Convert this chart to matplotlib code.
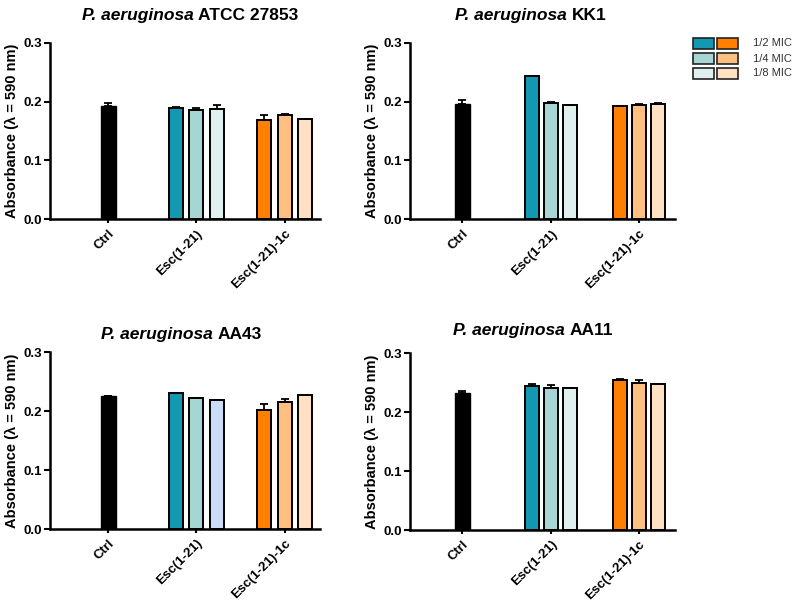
import numpy as np
import matplotlib
matplotlib.use("Agg")
import matplotlib.pyplot as plt
from matplotlib.patches import Rectangle

plt.rcParams["font.family"] = ["Liberation Sans", "DejaVu Sans"]

groups = ["Ctrl", "Esc(1-21)", "Esc(1-21)-1c"]
doses = ["1/2 MIC", "1/4 MIC", "1/8 MIC"]
species = "P. aeruginosa"
titles = ["ATCC 27853", "KK1", "AA43", "AA11"]

# absorbance values per strain: ctrl, Esc(1-21) [1/2,1/4,1/8], Esc(1-21)-1c [1/2,1/4,1/8]
ctrl = [0.193, 0.196, 0.225, 0.232]
ctrl_err = [0.004, 0.006, 0.001, 0.004]
esc = [[0.190, 0.186, 0.187],
       [0.243, 0.198, 0.194],
       [0.230, 0.222, 0.219],
       [0.2435, 0.241, 0.241]]
esc_err = [[0.001, 0.004, 0.007],
           [0.0, 0.001, 0.001],
           [0.0, 0.001, 0.0],
           [0.0035, 0.004, 0.0]]
esc1c = [[0.169, 0.178, 0.171],
         [0.192, 0.194, 0.196],
         [0.202, 0.216, 0.228],
         [0.254, 0.249, 0.248]]
esc1c_err = [[0.009, 0.001, 0.0],
             [0.0, 0.002, 0.002],
             [0.010, 0.005, 0.0],
             [0.002, 0.006, 0.0]]

teal = ["#1497b0", "#a7d5d3", "#dff0ef"]
orange = ["#ff7f00", "#ffbf80", "#ffe0c2"]
aa43_teal = ["#1497b0", "#a7d5d3", "#c9def6"]

fig = plt.figure(figsize=(8, 6.04), dpi=100)

# axes boxes [left, bottom, width, height] and layout per panel
boxes = [[0.0625, 0.637, 0.3375, 0.292],
         [0.5125, 0.637, 0.33125, 0.292],
         [0.0625, 0.124, 0.3375, 0.293],
         [0.5125, 0.1225, 0.33125, 0.293]]
xlims = [(-58, 212), (-52.5, 212.5), (-58, 212), (-52.5, 212.5)]
steps = [20.5, 19, 20.5, 19]
title_y = [0.974, 0.974, 0.447, 0.452]
title_x = [190 / 800, 531 / 800, 181 / 800, 533 / 800]
group_x = np.arange(3) * 88.3
ekw = dict(lw=1.3, capthick=1.3)

for i in range(4):
    ax = fig.add_axes(boxes[i])
    step = steps[i]
    w = 14
    cols = aa43_teal if i == 2 else teal
    ax.bar(group_x[0], ctrl[i], width=w + 1, color="black", edgecolor="black",
           yerr=[[0], [ctrl_err[i]]], capsize=3, error_kw=ekw)
    for j in range(3):
        ax.bar(group_x[1] + (j - 1) * step, esc[i][j], width=w, color=cols[j],
               edgecolor="black", linewidth=1.4,
               yerr=[[0], [esc_err[i][j]]], capsize=3, error_kw=ekw)
        ax.bar(group_x[2] + (j - 1) * step, esc1c[i][j], width=w, color=orange[j],
               edgecolor="black", linewidth=1.4,
               yerr=[[0], [esc1c_err[i][j]]], capsize=3, error_kw=ekw)
    ax.set_xlim(*xlims[i])
    ax.set_ylim(0, 0.3)
    ax.set_yticks([0, 0.1, 0.2, 0.3])
    ax.set_yticklabels(["0.0", "0.1", "0.2", "0.3"], fontsize=9.5, fontweight="bold")
    ax.set_xticks(group_x)
    ax.set_xticklabels(groups, rotation=45, ha="right", rotation_mode="anchor",
                       fontsize=9.5, fontweight="bold")
    ax.tick_params(axis="both", width=1.5, length=4, direction="out", pad=2)
    ax.tick_params(axis="x", length=3, pad=3)
    for s in ["top", "right"]:
        ax.spines[s].set_visible(False)
    for s in ["left", "bottom"]:
        ax.spines[s].set_linewidth(1.8)
    ax.set_ylabel("Absorbance (\u03bb = 590 nm)", fontsize=10.5, fontweight="bold", labelpad=3)

# titles: italic species name followed by the strain in bold
renderer = fig.canvas.get_renderer()
for i in range(4):
    t1 = fig.text(0, title_y[i], species + " ", fontsize=12.5, fontweight="bold",
                  style="italic", va="center", ha="left")
    t2 = fig.text(0, title_y[i], titles[i], fontsize=12.5, fontweight="bold",
                  va="center", ha="left")
    w1 = t1.get_window_extent(renderer).width / fig.bbox.width
    w2 = t2.get_window_extent(renderer).width / fig.bbox.width
    x0 = title_x[i] - (w1 + w2) / 2
    t1.set_x(x0)
    t2.set_x(x0 + w1)

# legend drawn by hand
rows_y = [1 - 49 / 604, 1 - 64 / 604, 1 - 79 / 604]
for k in range(3):
    fig.patches.append(Rectangle((693 / 800, rows_y[k]), 21 / 800, 11 / 604,
                                 transform=fig.transFigure, facecolor=teal[k],
                                 edgecolor="#222222", linewidth=1.2))
    fig.patches.append(Rectangle((717 / 800, rows_y[k]), 21 / 800, 11 / 604,
                                 transform=fig.transFigure, facecolor=orange[k],
                                 edgecolor="#222222", linewidth=1.2))
    fig.text(753 / 800, rows_y[k] + 5.5 / 604, doses[k], ha="left", va="center",
             fontsize=8, color="#333333")

fig.savefig("out.png", dpi=100)
